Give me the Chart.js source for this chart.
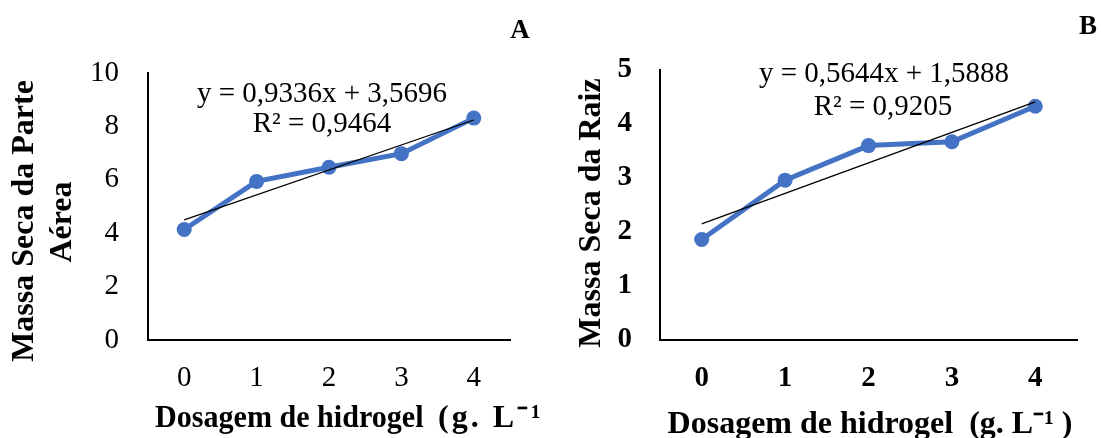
<!DOCTYPE html>
<html>
<head>
<meta charset="utf-8">
<script src="https://cdn.jsdelivr.net/npm/chart.js@4"></script>
<style>
  html, body { margin: 0; padding: 0; background: #fff; }
  #wrap { position: relative; width: 1101px; height: 438px; overflow: hidden; }
  #chartA { position: absolute; left: 0; top: 0; }
  #chartB { position: absolute; left: 550px; top: 0; }
</style>
</head>
<body>
<div id="wrap">
  <canvas id="chartA" width="550" height="438"></canvas>
  <canvas id="chartB" width="551" height="438"></canvas>
</div>
<script>
// --- Data ---
const dosageLabels = ['0', '1', '2', '3', '4'];

const shootMass = [4.14, 5.94, 6.47, 6.98, 8.31];
const shootTrend = [4.50, null, null, null, 8.24]; // linear trendline ends
const shootTicks = [0, 2, 4, 6, 8, 10];

const rootMass = [1.86, 2.96, 3.60, 3.67, 4.33];
const rootTrend = [2.15, null, null, null, 4.41];
const rootTicks = [0, 1, 2, 3, 4, 5];

const shootEquation = ['y = 0,9336x + 3,5696', 'R\u00B2 = 0,9464'];
const rootEquation = ['y = 0,5644x + 1,5888', 'R\u00B2 = 0,9205'];

const xTitle = 'Dosagem de hidrogel  (g. L\u207B\u00B9 )';
const FONT = "'Liberation Serif', 'Times New Roman', serif";
const BLUE = '#4472C4';

// draws the free text (panel letter, axis titles, equations) without maxWidth squeezing
const chartTexts = {
    id: 'chartTexts',
    afterDraw(chart, args, opts) {
        const ctx = chart.ctx;
        (opts.items || []).forEach(item => {
            ctx.save();
            ctx.font = item.font;
            ctx.fillStyle = '#000';
            ctx.textAlign = item.align || 'center';
            ctx.textBaseline = item.baseline || 'middle';
            if (item.spacing) ctx.letterSpacing = item.spacing;
            ctx.translate(item.x, item.y);
            if (item.rotate) ctx.rotate(item.rotate);
            if (item.scaleX) ctx.scale(item.scaleX, 1);
            ctx.fillText(item.text, 0, 0);
            ctx.restore();
        });
    }
};

function makeChart(id, opts) {
    const tickFont = { family: FONT, size: 29, weight: opts.tickWeight, lineHeight: 1.2 };
    return new Chart(document.getElementById(id), {
        type: 'line',
        data: {
            labels: dosageLabels,
            datasets: [
                {
                    data: opts.trend,
                    borderColor: '#000',
                    borderWidth: 1.3,
                    pointRadius: 0,
                    spanGaps: true,
                    tension: 0
                },
                {
                    data: opts.values,
                    borderColor: BLUE,
                    backgroundColor: BLUE,
                    borderWidth: 5,
                    pointRadius: 7.5,
                    pointBorderWidth: 0,
                    pointBackgroundColor: BLUE,
                    tension: 0
                }
            ]
        },
        options: {
            responsive: false,
            animation: false,
            devicePixelRatio: 1,
            layout: { padding: opts.padding },
            plugins: {
                legend: { display: false },
                tooltip: { enabled: false },
                chartTexts: { items: opts.texts }
            },
            scales: {
                x: {
                    offset: true,
                    grid: { display: false, drawTicks: false },
                    border: { display: true, color: '#000', width: 2 },
                    ticks: { font: tickFont, color: '#000', padding: 21 },
                    afterFit(scale) { scale.height = 98; }
                },
                y: {
                    min: 0,
                    max: opts.ticks[opts.ticks.length - 1],
                    grid: { display: false, drawTicks: false },
                    border: { display: true, color: '#000', width: 2 },
                    ticks: { font: tickFont, color: '#000', padding: opts.tickPad },
                    afterBuildTicks(scale) { scale.ticks = opts.ticks.map(v => ({ value: v })); },
                    afterFit(scale) { scale.width = opts.yWidth; }
                }
            }
        },
        plugins: [chartTexts]
    });
}

const titleFont = 'bold 32px ' + FONT;
const letterFont = 'bold 27px ' + FONT;
const eqFont = '29px ' + FONT;

// panel A: the x title runs past the panel edge and is cut there, as in the source figure
const xTitleParts = xTitle.split('  ');

makeChart('chartA', {
    values: shootMass,
    trend: shootTrend,
    ticks: shootTicks,
    tickWeight: 'normal',
    tickPad: 29,
    yWidth: 148,
    padding: { left: 0, right: 40, top: 73, bottom: 0 },
    texts: [
        { text: 'A', x: 520, y: 31, font: letterFont },
        { text: 'Massa Seca da Parte', x: 25, y: 221, font: titleFont, rotate: -Math.PI / 2 },
        { text: 'Aérea', x: 63, y: 222, font: titleFont, rotate: -Math.PI / 2 },
        { text: xTitleParts[0], x: 155, y: 427, font: titleFont, align: 'left', baseline: 'alphabetic', scaleX: 0.94 },
        { text: xTitleParts[1], x: 438, y: 427, font: titleFont, align: 'left', baseline: 'alphabetic', spacing: '3px' },
        { text: shootEquation[0], x: 322, y: 94, font: eqFont },
        { text: shootEquation[1], x: 322, y: 124, font: eqFont }
    ]
});

makeChart('chartB', {
    values: rootMass,
    trend: rootTrend,
    ticks: rootTicks,
    tickWeight: 'bold',
    tickPad: 28,
    yWidth: 110,
    padding: { left: 0, right: 24, top: 70, bottom: 0 },
    texts: [
        { text: 'B', x: 538, y: 27, font: letterFont },
        { text: 'Massa Seca da Raiz', x: 42, y: 213, font: titleFont, rotate: -Math.PI / 2 },
        { text: xTitle, x: 320, y: 433, font: titleFont, baseline: 'alphabetic' },
        { text: rootEquation[0], x: 334, y: 74, font: eqFont },
        { text: rootEquation[1], x: 333, y: 107, font: eqFont }
    ]
});
</script>
</body>
</html>
